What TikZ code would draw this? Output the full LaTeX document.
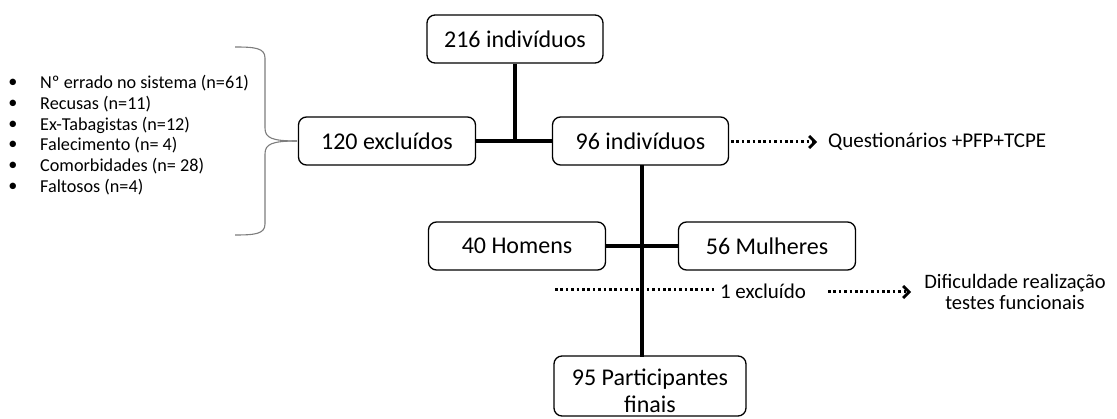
\documentclass[tikz,border=0pt]{standalone}
\usepackage{fontspec}
\setmainfont{Carlito}
\usetikzlibrary{arrows.meta}
\definecolor{bracegray}{RGB}{125,125,125}
\tikzset{
  box/.style={draw, rounded corners=8pt, line width=1.3pt, minimum height=48pt, inner sep=2pt, font=\fontsize{24}{27}\selectfont, align=center},
  conn/.style={line width=3.2pt},
  dotline/.style={line width=3pt, dash pattern=on 2.6pt off 2.8pt},
  dotarrow/.style={dotline, -{Straight Barb[length=6pt,width=12pt,line width=2.8pt]}},
  lbl/.style={font=\fontsize{21}{25}\selectfont, inner sep=0pt},
  item/.style={font=\fontsize{18.2}{22}\selectfont, anchor=west, inner sep=0pt},
}
\begin{document}
\begin{tikzpicture}[x=1pt,y=-1pt]
\useasboundingbox (0,0) rectangle (1117,419);
% boxes
\node[box, minimum width=176pt] (top) at (515,39) {216 indivíduos};
\node[box, minimum width=177pt] (exc) at (387,141) {120 excluídos};
\node[box, minimum width=176pt] (ind) at (640.5,141) {96 indivíduos};
\node[box, minimum width=177pt] (hom) at (517,246) {40 Homens};
\node[box, minimum width=177pt] (mul) at (767,246) {56 Mulheres};
\node[box, minimum width=192pt, minimum height=60pt] (fin) at (650,386) {};
\node[align=center, inner sep=0pt, font=\fontsize{24}{27}\selectfont] (fintext) at (650,391) {95 Participantes\\finais};
% solid connectors
\draw[conn] (exc.east) -- (ind.west);
\draw[conn] (top.south) -- (top.south |- exc.east);
\draw[conn] (hom.east) -- (mul.west);
\coordinate (vtop) at (642,165);
\coordinate (vbot) at (642,357);
\draw[conn] (vtop) -- (vbot);
% questionnaires
\node[lbl, anchor=west] (quest) at (828,142) {Questionários +PFP+TCPE};
\coordinate (qs) at (731,142);
\coordinate (qe) at (817,142);
\draw[dotarrow] (qs) -- (qe);
% exclusion line
\node[lbl] (ex1) at (763,291) {1 excluído};
\coordinate (ds) at (555,290);
\coordinate (de) at (714,290);
\draw[dotline] (ds) -- (de);
\node[lbl, align=center, font=\fontsize{20.5}{21}\selectfont] (dif) at (1015,292) {Dificuldade realização\\testes funcionais};
\coordinate (as) at (828,292);
\coordinate (ae) at (911,292);
\draw[dotarrow] (as) -- (ae);
% brace
\draw[bracegray, line width=1.1pt]
  (235,47) .. controls (255,47) and (265,48) .. (265,58)
  -- (265,128) .. controls (265,138) and (272,141) .. (297,141);
\draw[bracegray, line width=1.1pt]
  (297,141) .. controls (272,141) and (265,144) .. (265,154)
  -- (265,224) .. controls (265,234) and (255,235) .. (235,235);
% bullet list
\foreach \y/\t in {83/{Nº errado no sistema (n=61)}, 104/{Recusas (n=11)}, 125/{Ex-Tabagistas (n=12)}, 145/{Falecimento (n= 4)}, 166/{Comorbidades (n= 28)}, 187/{Faltosos (n=4)}}{
  \node[item] at (40,\y) {\t};
  \node[item, anchor=center] at (13,\y) {\textbullet};
}
\end{tikzpicture}
\end{document}
